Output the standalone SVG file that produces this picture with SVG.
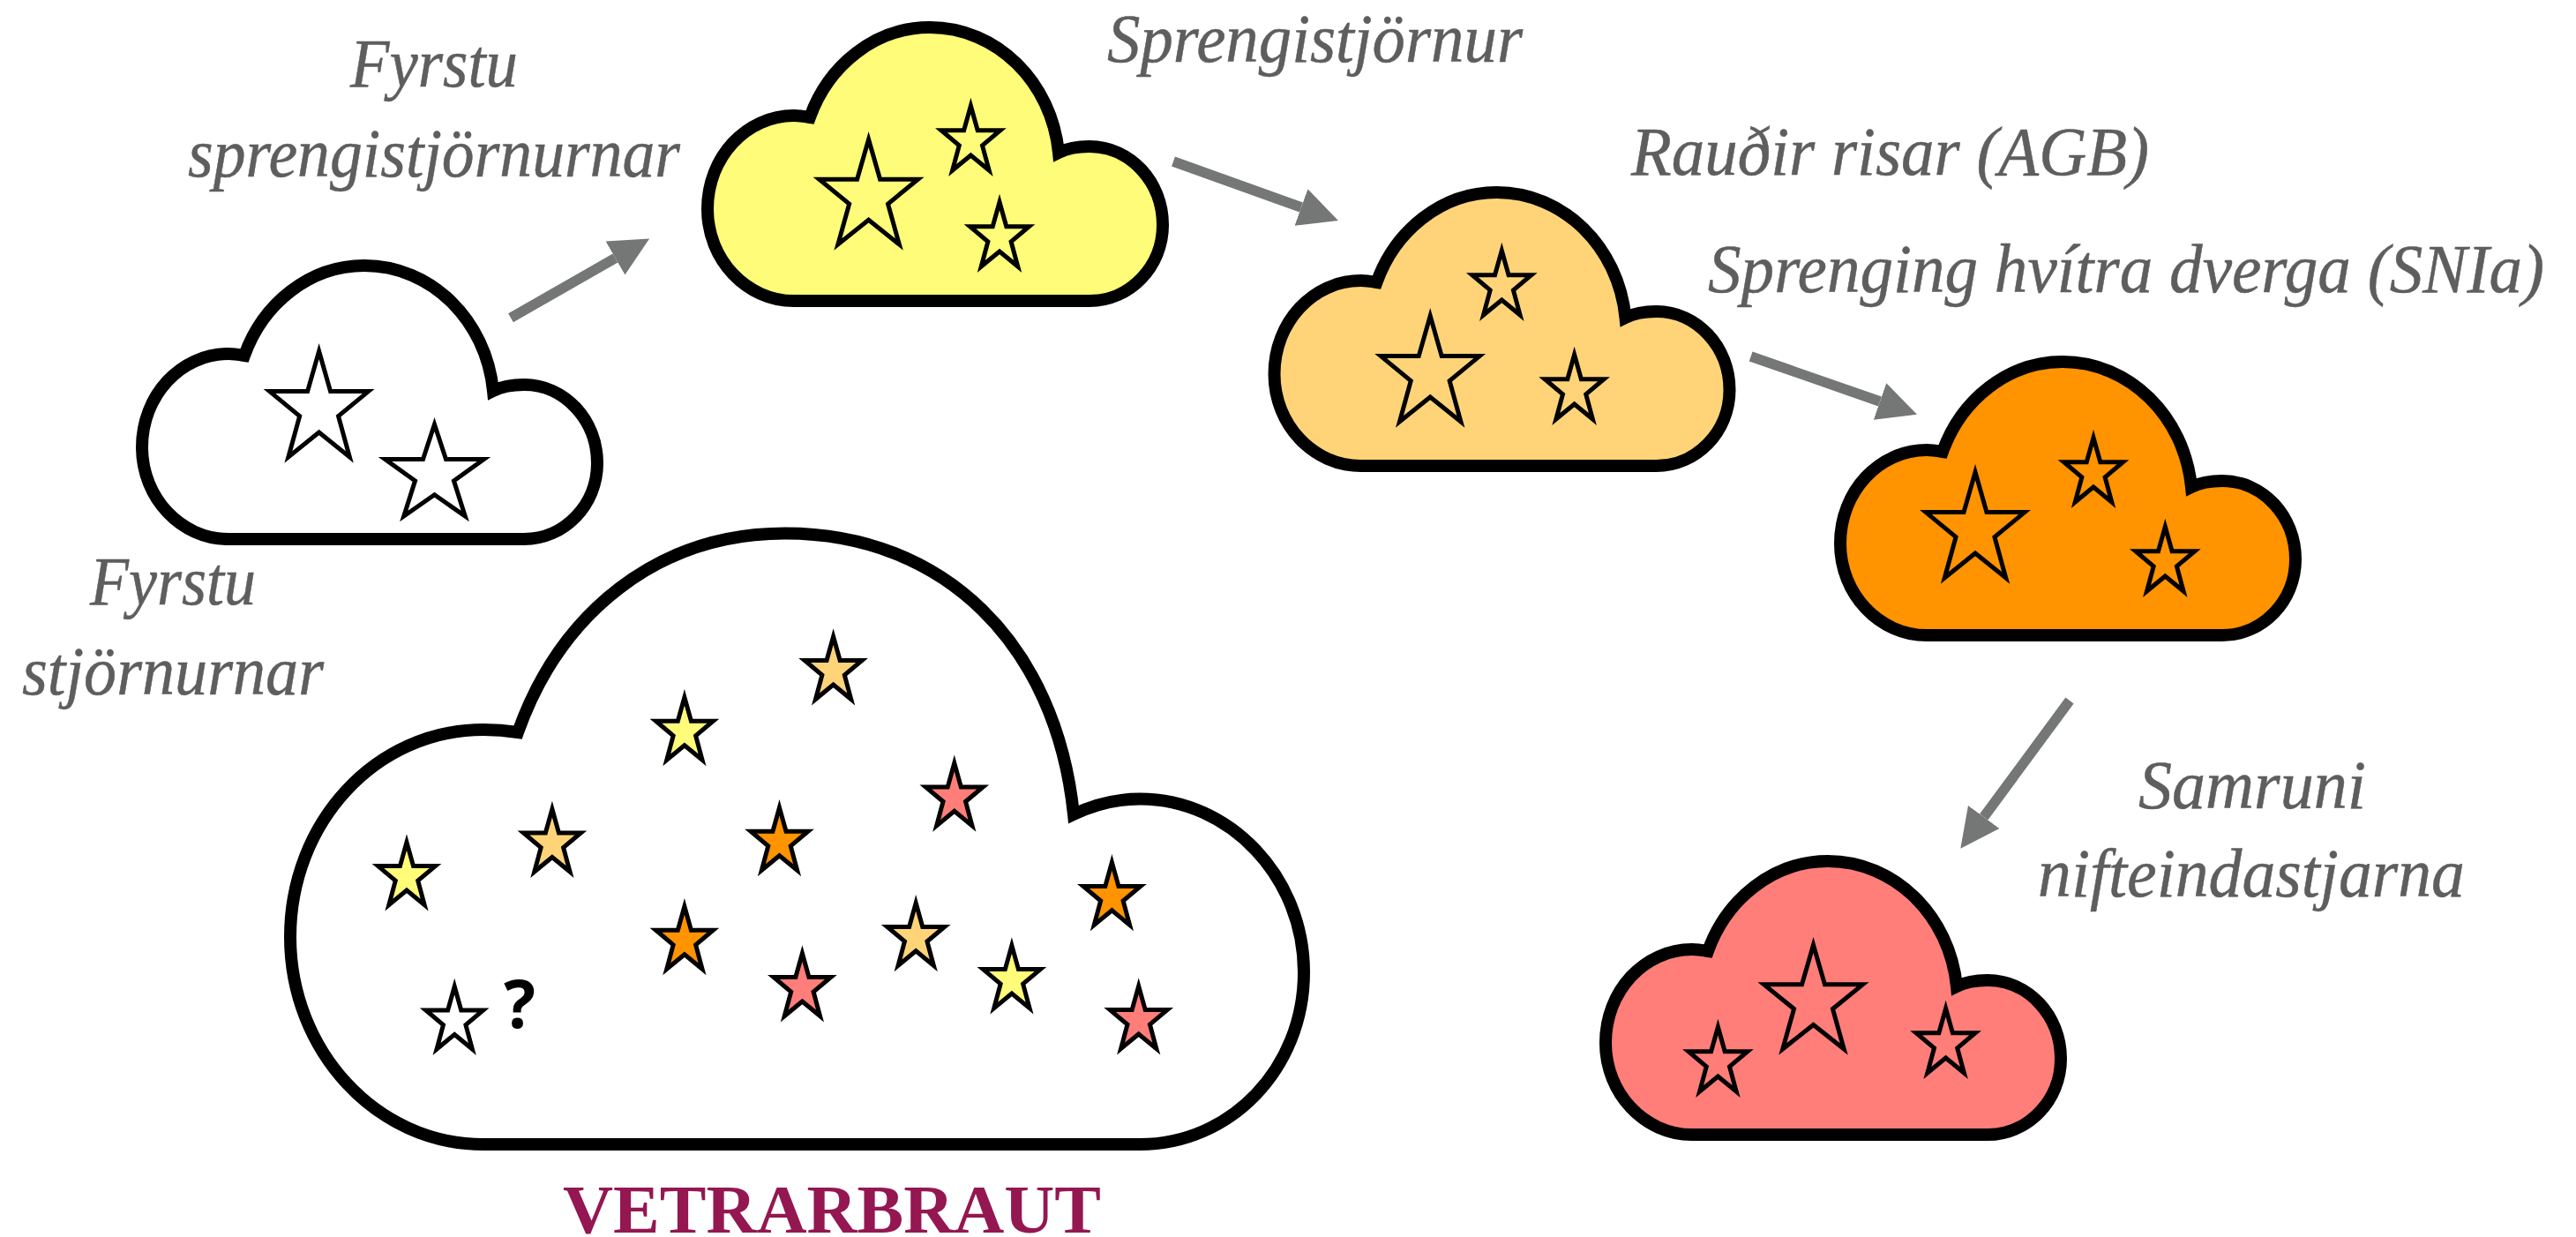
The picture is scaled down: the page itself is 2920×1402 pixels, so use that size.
<svg xmlns="http://www.w3.org/2000/svg" width="2920" height="1402" viewBox="0 0 2920 1402">
<style>
.cloud{stroke:#000;stroke-width:14;stroke-miterlimit:12}
.star{stroke:#000;stroke-width:5;stroke-miterlimit:12;vector-effect:non-scaling-stroke}
.thick .star{stroke-width:6}
.w{fill:#fff}.y{fill:#FFFC79}.c{fill:#FFD479}.o{fill:#FF9300}.p{fill:#FF7E79}
.lab{font-family:"Liberation Serif",serif;font-style:italic;font-size:78px;fill:#5E5E5E;stroke:#5E5E5E;stroke-width:.5}
.arrow{stroke:#757776;stroke-width:11.5;fill:none;marker-end:url(#head)}
</style>
<defs>
<path id="cloud" d="M98,310 H433 C479,310 516,271 516,224 C516,175 479,135 433,135 C420,135 408,137 398,142 C390,62 328,0 252,0 C190,0 137,43 116,102 C110,101 104,100 98,100 C44,100 0,147 0,206 C0,263 44,310 98,310 Z"/>
<polygon id="s" class="star" points="0,0 11.6,38 50,38 19.6,61.4 31,100 0,76.7 -31,100 -19.6,61.4 -50,38 -11.6,38"/>
<marker id="head" markerUnits="userSpaceOnUse" markerWidth="50" markerHeight="50" viewBox="0 -25 50 50" refX="0" refY="0" orient="auto">
<path d="M0,-22 L44.5,0 L0,22 Z" fill="#757776"/>
</marker>
</defs>
<rect width="2920" height="1402" fill="#fff"/>
<g id="connectors">
<line class="arrow" x1="579" y1="360.2" x2="697.5" y2="292.5"/>
<line class="arrow" x1="1330" y1="183" x2="1475" y2="235"/>
<line class="arrow" x1="1984.6" y1="404" x2="2131" y2="455"/>
<line class="arrow" x1="2346" y1="794" x2="2248.7" y2="926"/>
</g>
<g id="node-fyrstu-stjornurnar">
<use href="#cloud" class="cloud w" transform="translate(161,301)"/>
<use href="#s" class="w" transform="translate(361.6,398) scale(1.12,1.2)"/>
<use href="#s" class="w" transform="translate(492.5,481) scale(1.12,1.04)"/>
<text class="lab" x="102" y="685" textLength="188" lengthAdjust="spacingAndGlyphs">Fyrstu</text>
<text class="lab" x="25" y="787" textLength="342" lengthAdjust="spacingAndGlyphs">stjörnurnar</text>
</g>
<g id="node-fyrstu-sprengistjornurnar">
<use href="#cloud" class="cloud y" transform="translate(802,31)"/>
<use href="#s" class="y" transform="translate(984.6,158) scale(1.12,1.19)"/>
<use href="#s" class="y" transform="translate(1100.4,120) scale(.67,.73)"/>
<use href="#s" class="y" transform="translate(1133,229) scale(.67,.73)"/>
<text class="lab" x="397" y="98" textLength="190" lengthAdjust="spacingAndGlyphs">Fyrstu</text>
<text class="lab" x="213" y="200" textLength="558" lengthAdjust="spacingAndGlyphs">sprengistjörnurnar</text>
</g>
<g id="node-sprengistjornur">
<use href="#cloud" class="cloud c" transform="translate(1444.5,218)"/>
<use href="#s" class="c" transform="translate(1621.2,358) scale(1.12,1.2)"/>
<use href="#s" class="c" transform="translate(1702.3,284) scale(.67,.73)"/>
<use href="#s" class="c" transform="translate(1784.6,402) scale(.67,.73)"/>
<text class="lab" x="1255" y="70" textLength="471" lengthAdjust="spacingAndGlyphs">Sprengistjörnur</text>
</g>
<g id="node-raudir-risar">
<use href="#cloud" class="cloud o" transform="translate(2086,410)"/>
<use href="#s" class="o" transform="translate(2239,535) scale(1.12,1.2)"/>
<use href="#s" class="o" transform="translate(2373,496) scale(.67,.73)"/>
<use href="#s" class="o" transform="translate(2454.3,597) scale(.67,.73)"/>
<text class="lab" x="1849" y="198" textLength="587" lengthAdjust="spacingAndGlyphs">Rauðir risar (AGB)</text>
<text class="lab" x="1936" y="331" textLength="948" lengthAdjust="spacingAndGlyphs">Sprenging hvítra dverga (SNIa)</text>
</g>
<g id="node-samruni">
<use href="#cloud" class="cloud p" transform="translate(1820,976)"/>
<use href="#s" class="p" transform="translate(2055.5,1071) scale(1.12,1.18)"/>
<use href="#s" class="p" transform="translate(1947.4,1164) scale(.67,.73)"/>
<use href="#s" class="p" transform="translate(2205.6,1143) scale(.67,.73)"/>
<text class="lab" x="2424" y="916" textLength="258" lengthAdjust="spacingAndGlyphs">Samruni</text>
<text class="lab" x="2310" y="1016" textLength="484" lengthAdjust="spacingAndGlyphs">nifteindastjarna</text>
</g>
<g id="node-vetrarbraut" class="thick">
<path class="cloud w" d="M548,1297 H1292 C1395,1297 1478,1211 1478,1102 C1478,995 1395,905.5 1292,905.5 C1265,905.5 1240,912 1217,923 C1197,730 1070,604.5 890,604.5 C745,604.5 635,695 587,830 C574,828 561,827 548,827 C426,827 329,932 329,1062 C329,1190 426,1297 548,1297 Z"/>
<use href="#s" class="w" transform="translate(515.2,1118) scale(.65,.71)"/>
<use href="#s" class="y" transform="translate(461,954.6) scale(.65,.71)"/>
<use href="#s" class="c" transform="translate(625.9,917) scale(.65,.71)"/>
<use href="#s" class="y" transform="translate(775.9,790.3) scale(.65,.71)"/>
<use href="#s" class="c" transform="translate(944.6,721.5) scale(.65,.71)"/>
<use href="#s" class="o" transform="translate(883.5,915.3) scale(.65,.71)"/>
<use href="#s" class="o" transform="translate(775.9,1027.3) scale(.65,.71)"/>
<use href="#s" class="p" transform="translate(909.4,1080.5) scale(.65,.71)"/>
<use href="#s" class="p" transform="translate(1081.8,864.9) scale(.65,.71)"/>
<use href="#s" class="c" transform="translate(1038.2,1023.4) scale(.65,.71)"/>
<use href="#s" class="y" transform="translate(1146.9,1071.6) scale(.65,.71)"/>
<use href="#s" class="o" transform="translate(1260.4,977.4) scale(.65,.71)"/>
<use href="#s" class="p" transform="translate(1290.7,1117.6) scale(.65,.71)"/>
<text x="571" y="1165" font-family="Noto Sans, sans-serif" font-weight="700" font-size="75" fill="#000">?</text>
<text x="638" y="1397" textLength="610" lengthAdjust="spacingAndGlyphs" font-family="Liberation Serif, serif" font-weight="700" font-size="79" fill="#941751">VETRARBRAUT</text>
</g>
</svg>
